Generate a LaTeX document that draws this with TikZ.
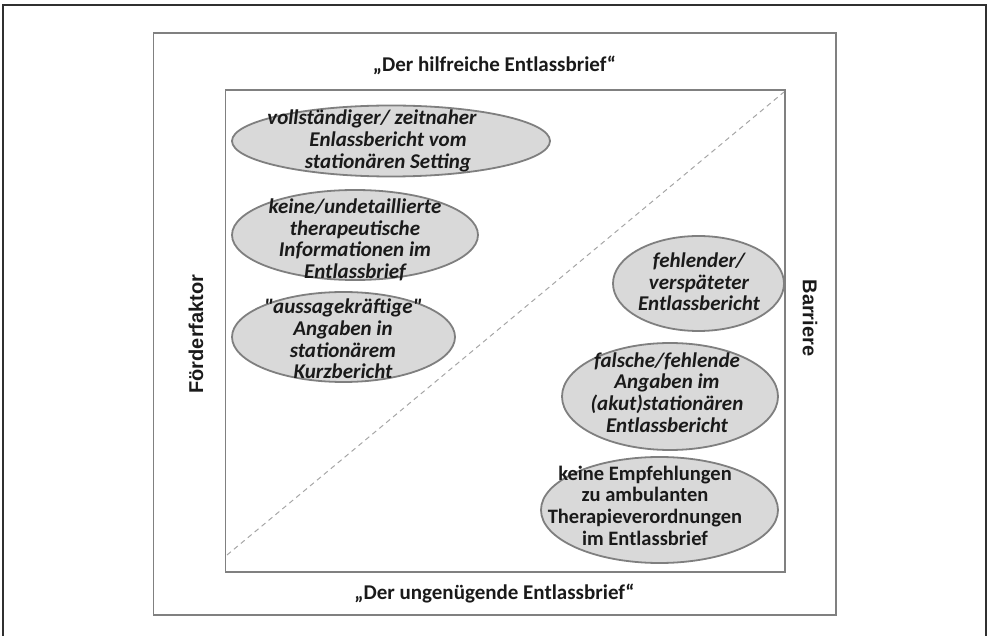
\documentclass[tikz,border=0pt]{standalone}
\usepackage{fontspec}
\setmainfont{Carlito}[Ligatures=TeXOff]
\newfontfamily\labelfont{Liberation Sans}
\usetikzlibrary{shapes.geometric}
\definecolor{boxgray}{HTML}{808080}
\definecolor{ovalfill}{HTML}{D9D9D9}
\definecolor{ovaldraw}{HTML}{7F7F7F}
\definecolor{dashgray}{HTML}{A6A6A6}
\definecolor{framedark}{HTML}{303030}
\definecolor{textdark}{HTML}{1A1A1A}
\tikzset{
  oval/.style={ellipse, draw=ovaldraw, fill=ovalfill, line width=1.8pt, inner sep=0pt},
  otext/.style={align=center, inner sep=0pt, text=textdark,
    font=\fontsize{21}{21.7}\selectfont\bfseries\itshape},
  utext/.style={align=center, inner sep=0pt, text=textdark,
    font=\fontsize{20.5}{21.7}\selectfont\bfseries},
  titletext/.style={inner sep=0pt, text=textdark, font=\fontsize{21}{25}\selectfont\bfseries},
  boxline/.style={draw=boxgray, line width=1.8pt},
  diag/.style={draw=dashgray, line width=1pt, dash pattern=on 5pt off 4pt},
  sidetext/.style={inner sep=0pt, text=textdark}
}
\begin{document}
\begin{tikzpicture}[x=1pt,y=-1pt]
\useasboundingbox (0,0) rectangle (989,636);
% outer frame
\draw[draw=framedark, line width=2pt] (3.3,636) -- (3.3,5) -- (986,5) -- (986,636);
% boxes
\draw[boxline] (153.5,32.7) rectangle (836,614.7);
\draw[boxline] (225.5,90.3) rectangle (785,572);
% diagonal
\coordinate (dA) at (227,555);
\coordinate (dB) at (784,92);
\draw[diag] (dA) -- (dB);
% titles
\node[titletext] (top) at (494.5,65) {„Der hilfreiche Entlassbrief“};
\node[titletext] (bot) at (494.5,594) {„Der ungenügende Entlassbrief“};
\node[sidetext, rotate=90, font=\labelfont\bfseries\fontsize{20}{24}\selectfont] (ff) at (196,334) {Förderfaktor};
\node[sidetext, rotate=-90, font=\labelfont\bfseries\fontsize{20}{24}\selectfont] (bar) at (810,318) {Barriere};
% ellipses
\node[oval, minimum width=318pt, minimum height=71pt] (e1) at (391,141) {};
\node[oval, minimum width=246pt, minimum height=90pt] (e2) at (355,235) {};
\node[oval, minimum width=223pt, minimum height=90pt] (e3) at (343.5,337) {};
\node[oval, minimum width=171pt, minimum height=95pt] (e4) at (698.5,283.5) {};
\node[oval, minimum width=216pt, minimum height=107pt] (e5) at (670,396.5) {};
\node[oval, minimum width=237pt, minimum height=106pt] (e6) at (659.5,510) {};
% texts
\node[otext] (t1) at (388,141) {vollständiger/ zeitnaher\hspace*{32pt}\\Enlassbericht vom\\stationären Setting};
\node[otext] (t2) at (355,240) {keine/undetaillierte\\therapeutische\\Informationen im\\Entlassbrief};
\node[otext] (t3) at (343,339) {"aussagekräftige"\\Angaben in\\stationärem\\Kurzbericht};
\node[otext] (t4) at (699,282) {fehlender/\\verspäteter\\Entlassbericht};
\node[otext] (t5) at (667,392.5) {falsche/fehlende\\Angaben im\\(akut)stationären\\Entlassbericht};
\node[utext] (t6) at (645,505.5) {keine Empfehlungen\\zu ambulanten\\Therapieverordnungen\\im Entlassbrief};
\end{tikzpicture}
\end{document}
